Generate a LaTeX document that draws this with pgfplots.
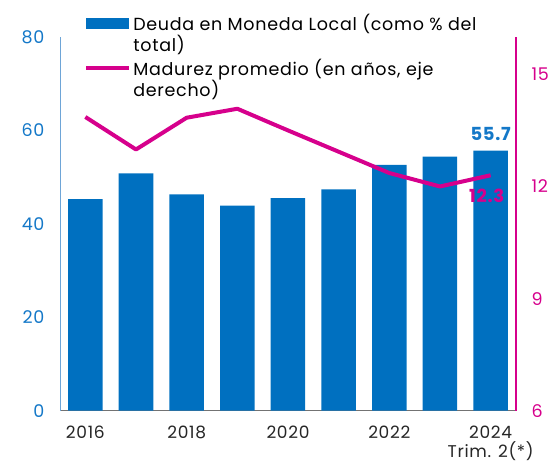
\documentclass[border=0pt]{standalone}
\usepackage{pgfplots}
\pgfplotsset{compat=1.18}
\usepackage{fontspec}
\setmainfont{Poppins}[LetterSpace=4]
\definecolor{barblue}{RGB}{0,112,192}
\definecolor{tickblue}{RGB}{20,120,200}
\definecolor{mag}{RGB}{214,0,140}
\definecolor{axblue}{RGB}{110,165,215}
\begin{document}
\begin{tikzpicture}
\useasboundingbox (0,0) rectangle (556pt,463pt);
\begin{axis}[
  at={(60pt,52.3pt)}, anchor=south west,
  scale only axis, width=456pt, height=373.7pt,
  xmin=-0.5, xmax=8.5, ymin=0, ymax=80,
  ybar, bar width=34.5pt,
  axis x line*=bottom, axis y line*=left,
  x axis line style={-, draw=black!55, line width=0.8pt},
  y axis line style={-, draw=axblue, line width=0.8pt},
  major tick length=0pt,
  xtick={0,2,4,6,8},
  xticklabels={2016,2018,2020,2022,{2024\\Trim. 2(*)}},
  xticklabel style={align=center, font=\fontsize{17}{19}\selectfont, text=black!85, yshift=-12pt},
  ytick={0,20,40,60,80},
  yticklabel style={text=tickblue, font=\fontsize{17.5}{18}\selectfont, xshift=-12pt},
  /pgf/number format/assume math mode=true,
  clip=false,
]
\addplot[fill=barblue, draw=none] coordinates {(0,45.3)(1,50.8)(2,46.3)(3,43.9)(4,45.5)(5,47.4)(6,52.6)(7,54.4)(8,55.7)};
\node[anchor=south, inner sep=0pt, text=tickblue, font=\fontsize{18}{20}\selectfont\bfseries, yshift=10pt] at (axis cs:8,55.7) {55.7};
\end{axis}
\begin{axis}[
  at={(60pt,52.3pt)}, anchor=south west,
  scale only axis, width=456pt, height=373.7pt,
  xmin=-0.5, xmax=8.5, ymin=6, ymax=16,
  axis x line=none, axis y line*=right,
  y axis line style={-, draw=mag, line width=1.2pt},
  major tick length=0pt,
  ytick={6,9,12,15},
  yticklabel style={text=mag, font=\fontsize{17.5}{18}\selectfont, xshift=12pt},
  /pgf/number format/assume math mode=true,
  clip=false,
  legend style={draw=none, fill=none, at={(0.053,1.066)}, anchor=north west,
    font=\fontsize{17.5}{21}\selectfont, cells={anchor=west, align=left}, row sep=2pt, inner sep=0pt},
  legend cell align=left,
]
\addlegendimage{legend image code/.code={\fill[barblue] (0pt,5.5pt) rectangle (42pt,15.5pt);}}
\addlegendentry{Deuda en Moneda Local (como \% del\\total)}
\addplot[mag, line width=4pt, line join=round, legend image code/.code={\draw[mag, line width=4pt] (0pt,10.5pt) -- (43pt,10.5pt);}]
  coordinates {(0,13.86)(1,12.99)(2,13.84)(3,14.08)(4,13.5)(5,12.93)(6,12.36)(7,12.0)(8,12.3)};
\addlegendentry{Madurez promedio (en años, eje\\derecho)}
\node[anchor=north, inner sep=0pt, text=mag, font=\fontsize{18}{20}\selectfont\bfseries, xshift=-4pt, yshift=-14pt] at (axis cs:8,12.3) {12.3};
\end{axis}
\end{tikzpicture}
\end{document}
